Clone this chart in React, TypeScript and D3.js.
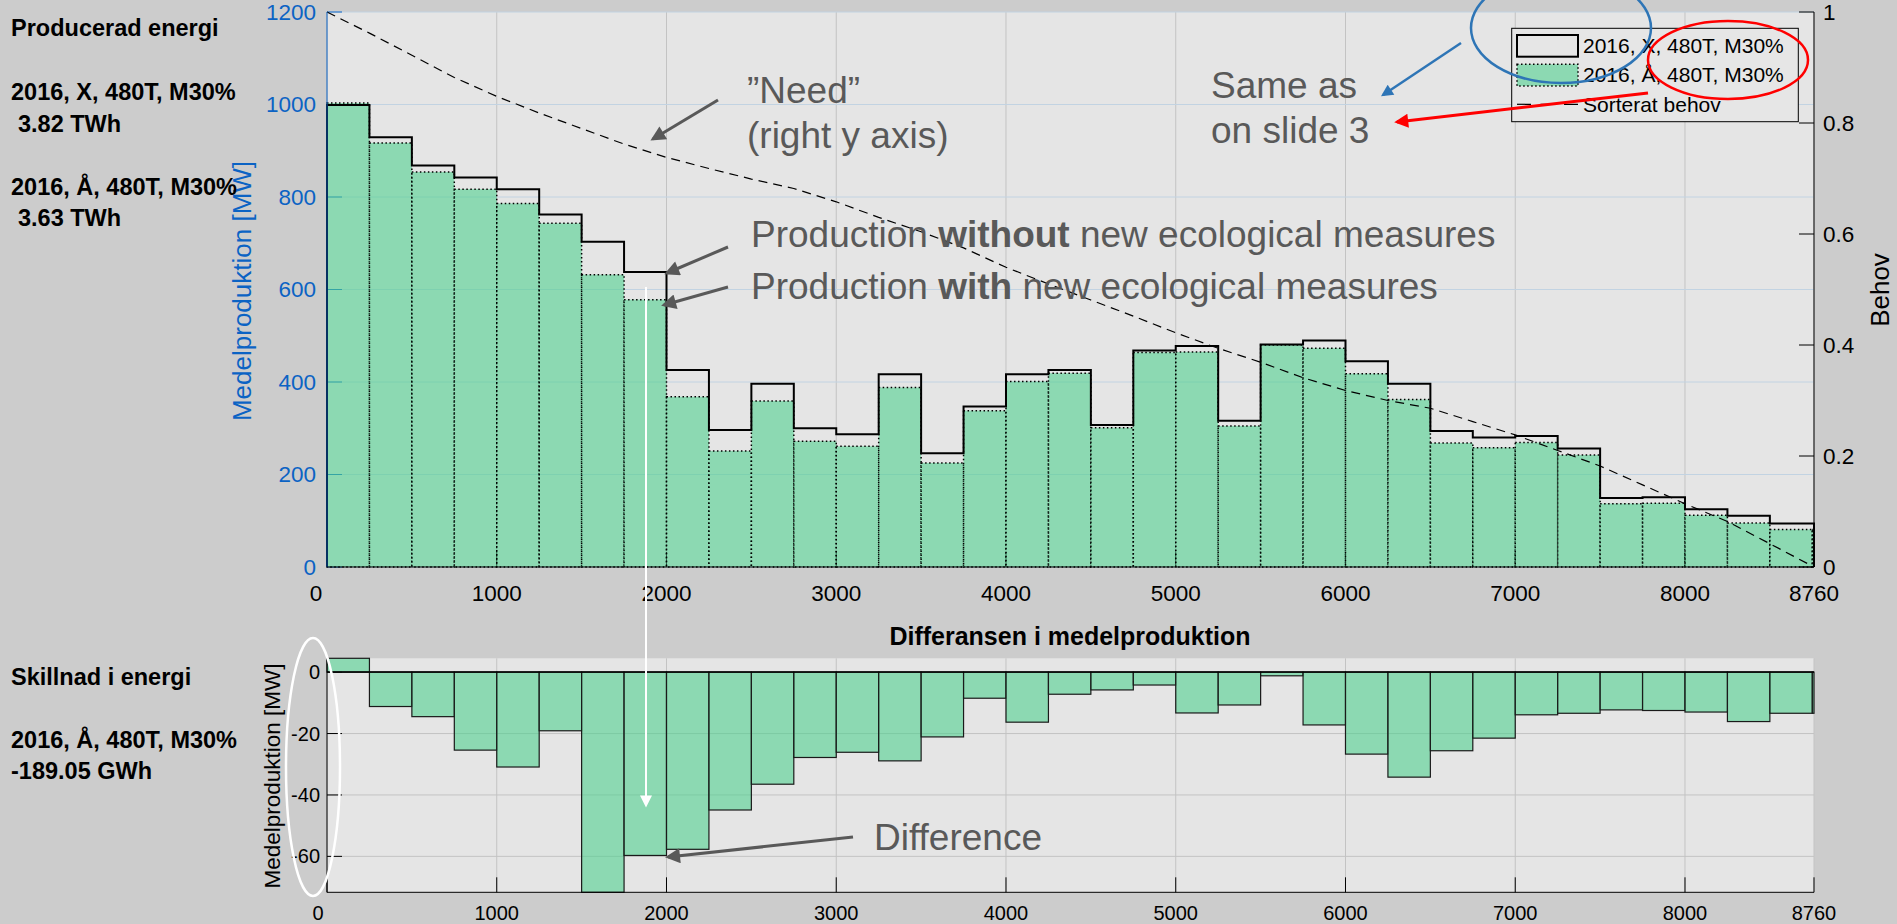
import React from 'react';
import * as d3 from 'd3';

const HOURS = 8760;
const BIN = 250;

// medelproduktion [MW] per 250 h bin, last bin is the 8750-8760 sliver
const prodX = [999, 929, 868, 842, 817, 762, 703, 638, 426, 296, 396, 300, 287, 417, 246, 347, 417, 426, 307, 468, 478, 316, 481, 490, 445, 396, 294, 280, 283, 256, 149, 151, 125, 111, 94, 94];
const prodA = [1003, 917, 854, 817, 786, 743, 632, 578, 368, 251, 359, 272, 261, 388, 225, 338, 401, 419, 301, 464, 465, 305, 480, 473, 418, 362, 268, 258, 269, 242, 137, 138, 112, 95, 81, 81];
// differens Å - X [MW]
const diffA = [4.5, -11.2, -14.5, -25.4, -30.9, -19.1, -71.7, -59.7, -57.7, -44.9, -36.5, -27.8, -26.1, -28.9, -21.1, -8.5, -16.3, -7.2, -5.8, -4.2, -13.3, -10.7, -1.2, -17.2, -26.7, -34.2, -25.6, -21.5, -13.9, -13.4, -12.3, -12.5, -13.0, -16.1, -13.4, -13.4];

// sorterat behov (right axis)
const behovHours = [0, 250, 500, 750, 1000, 1250, 1500, 1750, 2000, 2250, 2500, 2750, 3000, 3250, 3500, 3750, 4000, 4250, 4500, 4750, 5000, 5250, 5500, 5750, 6000, 6250, 6500, 6750, 7000, 7250, 7500, 7750, 8000, 8250, 8500, 8760];
const behov = [1.0, 0.962, 0.922, 0.882, 0.848, 0.818, 0.79, 0.762, 0.738, 0.718, 0.699, 0.682, 0.658, 0.63, 0.604, 0.575, 0.54, 0.51, 0.481, 0.452, 0.422, 0.394, 0.369, 0.341, 0.318, 0.3, 0.286, 0.262, 0.238, 0.21, 0.182, 0.148, 0.114, 0.082, 0.042, 0.0];

const xTicks = [0, 1000, 2000, 3000, 4000, 5000, 6000, 7000, 8000, 8760];
const leftTicks = [0, 200, 400, 600, 800, 1000, 1200];
const rightTicks = [0, 0.2, 0.4, 0.6, 0.8, 1];
const diffTicks = [-60, -40, -20, 0];

const FONT = "'Liberation Sans', Arial, Helvetica, sans-serif";
const BLUE = '#0b63c4';
const GREEN = 'rgb(80,208,144)';
const NOTE = '#595959';

const binStart = prodX.map((_, i) => i * BIN);
const binEnd = binStart.map((s) => Math.min(s + BIN, HOURS));

const x = d3.scaleLinear().domain([0, HOURS]).range([327, 1814]);
const yL = d3.scaleLinear().domain([0, 1200]).range([567, 12]);
const yR = d3.scaleLinear().domain([0, 1]).range([567, 12]);
const yB = d3.scaleLinear().domain([d3.min(diffA)!, d3.max(diffA)!]).range([892.3, 658.3]);

const stairsPts: [number, number][] = [[0, 0], ...prodX.map((v, i) => [binStart[i], v] as [number, number]), [HOURS, prodX[prodX.length - 1]], [HOURS, 0]];
const stairs = d3.line<[number, number]>().x((d) => x(d[0])).y((d) => yL(d[1])).curve(d3.curveStepAfter)(stairsPts);
const behovLine = d3.line<number>().x((_, i) => x(behovHours[i])).y((d) => yR(d))(behov);

const Arrow = ({ x1, y1, x2, y2, color, w, id }: any) => (
  <line x1={x1} y1={y1} x2={x2} y2={y2} stroke={color} strokeWidth={w} markerEnd={`url(#${id})`} />
);

export default function App() {
  const top = yL.range()[1], bot = yL.range()[0];
  const bTop = yB.range()[1], bBot = yB.range()[0];
  return (
    <svg width={1897} height={924} style={{ position: 'absolute', left: 0, top: 0, fontFamily: FONT }}>
      <defs>
        {[['ah-gray', NOTE, 16, 15], ['ah-blue', '#2e75b6', 14, 12], ['ah-red', '#ff0000', 16, 14], ['ah-white', '#ffffff', 14, 12]].map(([id, c, l, h]) => (
          <marker key={id as string} id={id as string} viewBox="0 0 10 10" refX="8" refY="5" markerWidth={l as number} markerHeight={h as number} orient="auto" markerUnits="userSpaceOnUse">
            <path d="M0,0 L10,5 L0,10 z" fill={c as string} />
          </marker>
        ))}
      </defs>
      <rect width={1897} height={924} fill="#cccccc" />

      {/* ---------- top plot ---------- */}
      <rect x={x(0)} y={top} width={x(HOURS) - x(0)} height={bot - top} fill="#e5e5e5" />
      {xTicks.map((t) => <line key={'gv' + t} x1={x(t)} x2={x(t)} y1={top} y2={bot} stroke="#c3c3c3" />)}
      {leftTicks.map((t) => <line key={'gh' + t} x1={x(0)} x2={x(HOURS)} y1={yL(t)} y2={yL(t)} stroke="#c2d3e2" />)}
      {leftTicks.map((t) => <line key={'lt' + t} x1={x(0)} x2={x(0) + 15} y1={yL(t)} y2={yL(t)} stroke={BLUE} />)}
      {xTicks.map((t) => <line key={'bt' + t} x1={x(t)} x2={x(t)} y1={bot} y2={bot - 15} stroke="#000" />)}

      {prodA.map((v, i) => (
        <rect key={'a' + i} x={x(binStart[i])} y={yL(v)} width={x(binEnd[i]) - x(binStart[i])} height={yL(0) - yL(v)}
          fill={GREEN} fillOpacity={0.6} stroke="#000" strokeWidth={1.5} strokeDasharray="1.5,2.5" />
      ))}
      <path d={stairs!} fill="none" stroke="#000" strokeWidth={2} />
      <path d={behovLine!} fill="none" stroke="#000" strokeWidth={1.2} strokeDasharray="9,6" />

      <line x1={x(0)} x2={x(0)} y1={top} y2={bot} stroke={BLUE} />
      <line x1={x(0)} x2={x(HOURS)} y1={bot} y2={bot} stroke="#000" />
      <line x1={x(HOURS)} x2={x(HOURS)} y1={top} y2={bot} stroke="#000" />
      {rightTicks.map((t) => <line key={'rt' + t} x1={x(HOURS) - 15} x2={x(HOURS)} y1={yR(t)} y2={yR(t)} stroke="#000" />)}

      {leftTicks.map((t) => (
        <text key={'ll' + t} x={316} y={yL(t)} dy="0.35em" textAnchor="end" fontSize={22.5} fill={BLUE}>{t}</text>
      ))}
      {rightTicks.map((t) => (
        <text key={'rl' + t} x={1823} y={yR(t)} dy="0.35em" fontSize={22.5} fill="#000">{t}</text>
      ))}
      {xTicks.map((t) => (
        <text key={'xl' + t} x={x(t)} dx={t === 0 ? -11 : 0} y={601} textAnchor="middle" fontSize={22.5} fill="#000">{t}</text>
      ))}
      <text transform="translate(251,291) rotate(-90)" textAnchor="middle" fontSize={26} fill={BLUE}>Medelproduktion [MW]</text>
      <text transform="translate(1889,290) rotate(-90)" textAnchor="middle" fontSize={26} fill="#000">Behov</text>

      {/* legend */}
      <rect x={1511.7} y={28.3} width={286.6} height={93.4} fill="#e6e6e6" stroke="#000" />
      <rect x={1517} y={35} width={61} height={21.7} fill="none" stroke="#000" strokeWidth={2} />
      <text x={1583} y={53.3} fontSize={21}>2016, X, 480T, M30%</text>
      <rect x={1517} y={64.3} width={61} height={21.7} fill={GREEN} fillOpacity={0.6} stroke="#000" strokeWidth={1.5} strokeDasharray="1.5,2.5" />
      <text x={1583} y={82} fontSize={21}>2016, Å, 480T, M30%</text>
      <line x1={1517} x2={1578} y1={104.3} y2={104.3} stroke="#000" strokeWidth={1.2} strokeDasharray="14,9.5" />
      <text x={1583} y={111.7} fontSize={21}>Sorterat behov</text>

      {/* ---------- bottom plot ---------- */}
      <rect x={x(0)} y={bTop} width={x(HOURS) - x(0)} height={bBot - bTop} fill="#e5e5e5" />
      {xTicks.map((t) => <line key={'bgv' + t} x1={x(t)} x2={x(t)} y1={bTop} y2={bBot} stroke="#c3c3c3" />)}
      {diffTicks.map((t) => <line key={'bgh' + t} x1={x(0)} x2={x(HOURS)} y1={yB(t)} y2={yB(t)} stroke="#c3c3c3" />)}
      {xTicks.map((t) => <line key={'bbt' + t} x1={x(t)} x2={x(t)} y1={bBot} y2={bBot - 15} stroke="#000" />)}
      {diffTicks.map((t) => <line key={'blt' + t} x1={x(0)} x2={x(0) + 15} y1={yB(t)} y2={yB(t)} stroke="#000" />)}
      {diffA.map((v, i) => (
        <rect key={'d' + i} x={x(binStart[i])} y={yB(Math.max(0, v))} width={x(binEnd[i]) - x(binStart[i])}
          height={Math.abs(yB(v) - yB(0))} fill={GREEN} fillOpacity={0.6} stroke="#1a1a1a" strokeWidth={1.2} />
      ))}
      <line x1={x(0)} x2={x(HOURS)} y1={yB(0)} y2={yB(0)} stroke="#000" strokeWidth={1.5} />
      <line x1={x(0)} x2={x(0)} y1={bTop} y2={bBot} stroke="#000" />
      <line x1={x(0)} x2={x(HOURS)} y1={bBot} y2={bBot} stroke="#000" />
      {diffTicks.map((t) => (
        <text key={'dl' + t} x={320} y={yB(t)} dy="0.35em" textAnchor="end" fontSize={20} fill="#000">{t}</text>
      ))}
      {xTicks.map((t) => (
        <text key={'bxl' + t} x={x(t)} dx={t === 0 ? -9 : 0} y={920} textAnchor="middle" fontSize={20} fill="#000">{t}</text>
      ))}
      <text x={1070} y={645} textAnchor="middle" fontSize={25} fontWeight="bold">Differansen i medelproduktion</text>
      <text transform="translate(280,776) rotate(-90)" textAnchor="middle" fontSize={22.5} fill="#000">Medelproduktion [MW]</text>

      {/* ---------- side texts ---------- */}
      <g fontSize={23.5} fontWeight="bold" fill="#000">
        <text x={11} y={36}>Producerad energi</text>
        <text x={11} y={100}>2016, X, 480T, M30%</text>
        <text x={18} y={131.7}>3.82 TWh</text>
        <text x={11} y={195}>2016, Å, 480T, M30%</text>
        <text x={18} y={225.7}>3.63 TWh</text>
        <text x={11} y={685}>Skillnad i energi</text>
        <text x={11} y={748}>2016, Å, 480T, M30%</text>
        <text x={11} y={779}>-189.05 GWh</text>
      </g>

      {/* ---------- slide annotations ---------- */}
      <g fontSize={37} fill={NOTE}>
        <text x={747} y={103.3}>”Need”</text>
        <text x={747} y={148}>(right y axis)</text>
        <text x={1211} y={98.3}>Same as</text>
        <text x={1211} y={143.3}>on slide 3</text>
        <text x={751} y={246.7}>Production <tspan fontWeight="bold">without</tspan> new ecological measures</text>
        <text x={751} y={299.3}>Production <tspan fontWeight="bold">with</tspan> new ecological measures</text>
        <text x={874} y={850}>Difference</text>
      </g>
      <Arrow x1={718} y1={100} x2={653} y2={139} color={NOTE} w={3} id="ah-gray" />
      <Arrow x1={728} y1={247} x2={667} y2={273} color={NOTE} w={3} id="ah-gray" />
      <Arrow x1={728} y1={287} x2={664} y2={305} color={NOTE} w={3} id="ah-gray" />
      <Arrow x1={853} y1={837} x2={668} y2={857} color={NOTE} w={3} id="ah-gray" />
      <Arrow x1={646} y1={287} x2={646} y2={805} color="#ffffff" w={2} id="ah-white" />
      <ellipse cx={1561} cy={28} rx={90} ry={55} fill="none" stroke="#2e75b6" strokeWidth={2.5} />
      <Arrow x1={1461} y1={43} x2={1383} y2={95} color="#2e75b6" w={2.5} id="ah-blue" />
      <ellipse cx={1728} cy={60} rx={80} ry={39} fill="none" stroke="#ff0000" strokeWidth={2.5} />
      <Arrow x1={1648} y1={93} x2={1397} y2={122} color="#ff0000" w={3} id="ah-red" />
      <ellipse cx={313} cy={767} rx={27} ry={129} fill="none" stroke="#ffffff" strokeWidth={2.5} />
    </svg>
  );
}
